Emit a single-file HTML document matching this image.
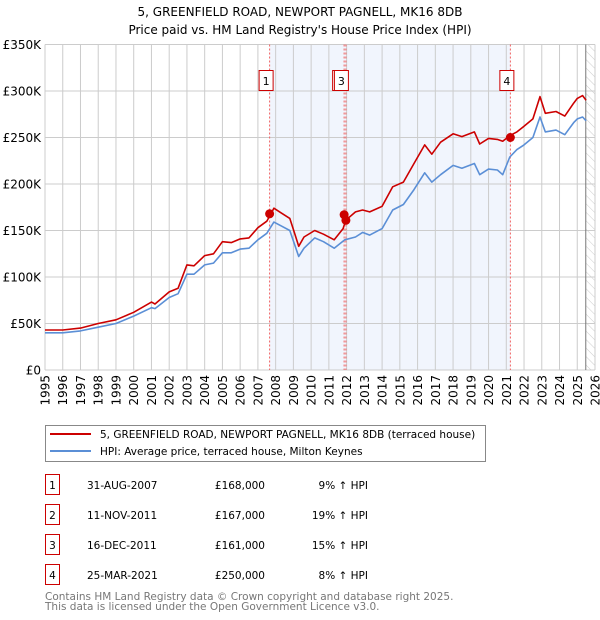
<!DOCTYPE html>
<html><head><meta charset="utf-8"><style>
body{margin:0;background:#fff;font-family:"DejaVu Sans","Liberation Sans",sans-serif;}
svg{display:block}
</style></head><body>
<svg id="c" width="600" height="620" xmlns="http://www.w3.org/2000/svg">
<defs><pattern id="hatch" width="6" height="6" patternUnits="userSpaceOnUse" patternTransform="rotate(-45)"><line x1="0" y1="0" x2="0" y2="6" stroke="#ccc" stroke-width="1"/></pattern></defs>
<text x="300" y="16" text-anchor="middle" font-size="12">5, GREENFIELD ROAD, NEWPORT PAGNELL, MK16 8DB</text>
<text x="300" y="34" text-anchor="middle" font-size="12">Price paid vs. HM Land Registry's House Price Index (HPI)</text>
<g id="plot"></g>
<g>
<rect x="45.5" y="425.5" width="440" height="36" fill="#fff" stroke="#888"/>
<line x1="50" y1="434" x2="91" y2="434" stroke="#cc0000" stroke-width="2"/>
<text x="100" y="438" font-size="10.5">5, GREENFIELD ROAD, NEWPORT PAGNELL, MK16 8DB (terraced house)</text>
<line x1="50" y1="451" x2="91" y2="451" stroke="#5b8fd6" stroke-width="2"/>
<text x="100" y="455" font-size="10.5">HPI: Average price, terraced house, Milton Keynes</text>
</g>
<g id="table" font-size="10.5"></g>
<text x="45" y="600" font-size="10.5" fill="#777">Contains HM Land Registry data © Crown copyright and database right 2025.</text>
<text x="45" y="610" font-size="10.5" fill="#777">This data is licensed under the Open Government Licence v3.0.</text>
</svg>
<script>
const hpiYears=[1995,1996,1997,1998,1999,2000,2001,2001.2,2002,2002.5,2003,2003.4,2004,2004.5,2005,2005.5,2006,2006.5,2007,2007.5,2007.9,2008.3,2008.8,2009.1,2009.3,2009.6,2010.2,2010.7,2011.3,2011.9,2012.5,2012.9,2013.3,2014,2014.6,2015.2,2015.8,2016.4,2016.8,2017.3,2018,2018.5,2019.2,2019.5,2020,2020.5,2020.8,2021.2,2021.6,2022,2022.5,2022.9,2023.2,2023.8,2024.3,2024.8,2025,2025.3,2025.5];
const hpiValues=[40,40,42,46,50,58,67,66,78,82,103,103,113,115,126,126,130,131,140,147,159,155,150,133,122,131,142,138,131,140,143,148,145,152,172,178,194,212,202,210,220,217,222,210,216,215,210,229,237,242,250,272,256,258,253,266,270,272,268];
const priceYears=[1995,1996,1997,1998,1999,2000,2001,2001.2,2002,2002.5,2003,2003.4,2004,2004.5,2005,2005.5,2006,2006.5,2007,2007.5,2007.9,2008.3,2008.8,2009.1,2009.3,2009.6,2010.2,2010.7,2011.3,2011.8,2011.95,2012.5,2012.9,2013.3,2014,2014.6,2015.2,2015.8,2016.4,2016.8,2017.3,2018,2018.5,2019.2,2019.5,2020,2020.5,2020.8,2021.2,2021.6,2022,2022.5,2022.9,2023.2,2023.8,2024.3,2024.8,2025,2025.3,2025.5];
const priceValues=[43,43,45,50,54,62,73,71,84,88,113,112,123,125,138,137,141,142,153,160,174,169,163,145,133,143,150,146,140,152,161,170,172,170,176,197,202,222,242,232,245,254,251,256,243,249,248,246,252,256,262,270,294,276,278,273,287,292,295,290];
const saleLabels=["1","2","3","4"];
const saleDates=[2007.66,2011.86,2011.96,2021.23];
const salePrices=[168,167,161,250];
const saleDateText=["31-AUG-2007","11-NOV-2011","16-DEC-2011","25-MAR-2021"];
const salePriceText=["£168,000","£167,000","£161,000","£250,000"];
const saleHpiText=["9% ↑ HPI","19% ↑ HPI","15% ↑ HPI","8% ↑ HPI"];
const yTicks=[0,50,100,150,200,250,300,350];
const yTickLabels=["£0","£50K","£100K","£150K","£200K","£250K","£300K","£350K"];
const x0=45,x1=595,y0=370,y1=44.5,yrMin=1995,yrMax=2026,vMax=350;
const X=t=>x0+(t-yrMin)/(yrMax-yrMin)*(x1-x0);
const Y=v=>y0-v/vMax*(y0-y1);
const NS="http://www.w3.org/2000/svg";
const g=document.getElementById('plot');
function mk(tag,at,parent){const e=document.createElementNS(NS,tag);for(const k in at)e.setAttribute(k,at[k]);(parent||g).appendChild(e);return e;}
let e;
e=mk('rect',{x:X(saleDates[0]),y:y1,width:X(saleDates[3])-X(saleDates[0]),height:y0-y1,fill:'#eef3fc',opacity:0.8});


e=mk('rect',{x:X(2025.48),y:y1,width:x1-X(2025.48),height:y0-y1,fill:'url(#hatch)'});


for(let yr=yrMin;yr<=yrMax;yr++){
 e=mk('line',{x1:X(yr),x2:X(yr),y1:y1,y2:y0,stroke:'#ccc','stroke-width':1});
 
 
 e=mk('text',{transform:`translate(${X(yr)+4.5},375) rotate(-90)`,'text-anchor':'end','font-size':12});
 e.textContent=yr;
 
 
}
yTicks.forEach((v,i)=>{
 e=mk('line',{x1:x0,x2:x1,y1:Y(v),y2:Y(v),stroke:'#ccc','stroke-width':1});
 
 
 e=mk('text',{x:41,y:Y(v)+4.5,'text-anchor':'end','font-size':12});
 e.textContent=yTickLabels[i];
 
 
});
e=mk('line',{x1:X(2025.48),x2:X(2025.48),y1:y1,y2:y0,stroke:'#777','stroke-width':1});


saleDates.forEach((d,i)=>{
 e=mk('line',{x1:X(d),x2:X(d),y1:y1,y2:y0,stroke:'#f06060','stroke-width':1,'stroke-dasharray':'2,2'});
 
 
});
function path(xs,vs){return xs.map((t,i)=>(i?'L':'M')+X(t).toFixed(1)+','+Y(vs[i]).toFixed(1)).join('');}
e=mk('path',{d:path(hpiYears,hpiValues),fill:'none',stroke:'#5b8fd6','stroke-width':1.6,'stroke-linejoin':'round'});


e=mk('path',{d:path(priceYears,priceValues),fill:'none',stroke:'#cc0000','stroke-width':1.6,'stroke-linejoin':'round'});


saleDates.forEach((d,i)=>{
 e=mk('circle',{cx:X(d),cy:Y(salePrices[i]),r:4.5,fill:'#cc0000'});
 
 
});
const boxOff=[-10,-11,-11,-10];
saleDates.forEach((d,i)=>{
 const bx=X(d)+boxOff[i];
 e=mk('rect',{x:bx-0.5,y:70.5,width:14,height:20,fill:'#fff',stroke:'#cc0000','stroke-width':1});
 
 
 e=mk('text',{x:bx+6.5,y:85,'text-anchor':'middle','font-size':11});
 e.textContent=saleLabels[i];
 
 
});
const tb=document.getElementById('table');
saleLabels.forEach((l,i)=>{
 const ry=475+i*30;
 e=mk('rect',{x:45.5,y:ry-0.5,width:14,height:20,fill:'#fff',stroke:'#cc0000'},tb);
 
 
 e=mk('text',{x:52.5,y:ry+14,'text-anchor':'middle'},tb);e.textContent=l;
 
 
 e=mk('text',{x:87,y:ry+14},tb);e.textContent=saleDateText[i];
 
 
 e=mk('text',{x:265,y:ry+14,'text-anchor':'end'},tb);e.textContent=salePriceText[i];
 
 
 e=mk('text',{x:368,y:ry+14,'text-anchor':'end'},tb);e.textContent=saleHpiText[i];
 
 
});
</script>
</body></html>
